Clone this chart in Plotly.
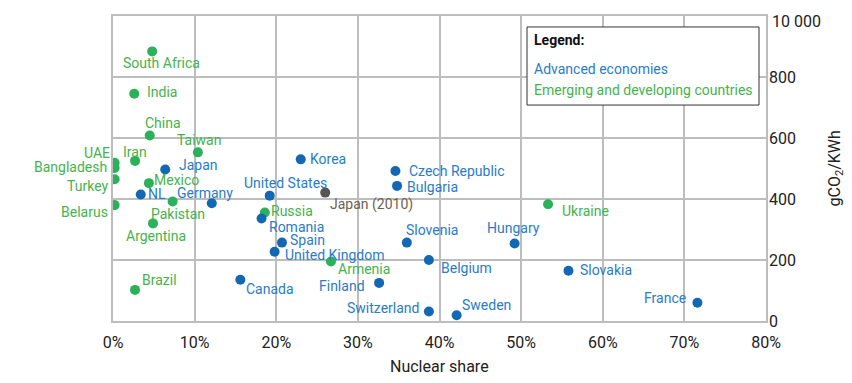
import plotly.graph_objects as go

# ---- data ----
countries = ["South Africa", "India", "China", "Taiwan", "UAE", "Bangladesh", "Iran", "Turkey",
             "Mexico", "NL", "Japan", "Germany", "Pakistan", "Belarus", "Argentina", "Brazil",
             "Canada", "Korea", "United States", "Japan (2010)", "Russia", "Romania", "Spain",
             "United Kingdom", "Armenia", "Finland", "Czech Republic", "Bulgaria", "Slovenia",
             "Belgium", "Switzerland", "Sweden", "Hungary", "Ukraine", "Slovakia", "France"]
nuclear_share = [4.8, 2.6, 4.5, 10.4, 0.2, 0.2, 2.7, 0.2,
                 4.4, 3.4, 6.4, 12.1, 7.3, 0.2, 4.9, 2.7,
                 15.6, 23.0, 19.2, 26.0, 18.6, 18.2, 20.7,
                 19.8, 26.7, 32.6, 34.6, 34.8, 36.0,
                 38.7, 38.7, 42.1, 49.2, 53.3, 55.8, 71.6]
co2_intensity = [884, 745, 608, 553, 519, 502, 525, 465,
                 452, 415, 497, 386, 392, 380, 320, 102,
                 135, 530, 411, 421, 356, 336, 257,
                 227, 195, 125, 492, 443, 257,
                 200, 31, 19, 254, 383, 165, 60]
group = ["E", "E", "E", "E", "E", "E", "E", "E",
         "E", "A", "A", "A", "E", "E", "E", "E",
         "A", "A", "A", "R", "E", "A", "A",
         "A", "E", "A", "A", "A", "A",
         "A", "A", "A", "A", "E", "A", "A"]
x_ticks = [0, 10, 20, 30, 40, 50, 60, 70, 80]
x_tick_labels = ["0%", "10%", "20%", "30%", "40%", "50%", "60%", "70%", "80%"]
y_ticks = [0, 200, 400, 600, 800, 1000]
y_tick_labels = ["0", "200", "400", "600", "800", "10 000"]

# ---- styles ----
label_offsets = {  # (dx, dy) pixel shift of label centre from point
    "South Africa": (9, -12), "India": (28, 2), "China": (13, 13), "Taiwan": (1, 12),
    "UAE": (-18, 10), "Bangladesh": (-44, 1), "Iran": (0, 9), "Turkey": (-27, -7),
    "Mexico": (28, 3), "NL": (16, 0), "Japan": (33, 4), "Germany": (-7, 10),
    "Pakistan": (5, -13), "Belarus": (-30, -7), "Argentina": (3, -13), "Brazil": (24, 10),
    "Canada": (30, -9), "Korea": (27, 0), "United States": (16, 13), "Japan (2010)": (46, -12),
    "Russia": (27, 1), "Romania": (35, -8), "Spain": (26, 3), "United Kingdom": (60, -3),
    "Armenia": (33, -7), "Finland": (-37, -3), "Czech Republic": (62, 0), "Bulgaria": (35, -1),
    "Slovenia": (25, 13), "Belgium": (38, -8), "Switzerland": (-46, 4), "Sweden": (30, 10),
    "Hungary": (-1, 16), "Ukraine": (37, -7), "Slovakia": (38, 1), "France": (-32, 5),
}
marker_col = {"A": "#1467b3", "E": "#2bb15a", "R": "#555555"}
label_col = {"A": "#2a7cc7", "E": "#45b34d", "R": "#6e5f52"}
FONT = "Roboto, 'DejaVu Sans', sans-serif"
GRID = "#bdbdbd"
TXT = "#222222"

fig = go.Figure()
for g in ["E", "A", "R"]:
    idx = [i for i, v in enumerate(group) if v == g]
    fig.add_trace(go.Scatter(
        x=[nuclear_share[i] for i in idx], y=[co2_intensity[i] for i in idx],
        mode="markers", marker=dict(size=10, color=marker_col[g]),
        showlegend=False, hoverinfo="skip"))

for i, name in enumerate(countries):
    dx, dy = label_offsets[name]
    fig.add_annotation(x=nuclear_share[i], y=co2_intensity[i], text=name, showarrow=False,
                       xshift=dx, yshift=dy, xanchor="center", yanchor="middle",
                       font=dict(family=FONT, size=14, color=label_col[group[i]]))

# legend box
fig.add_shape(type="rect", xref="paper", yref="paper", x0=0.634, x1=0.9893, y0=0.708, y1=0.964,
              line=dict(color="#333333", width=1), fillcolor="white", layer="above")
fig.add_annotation(xref="paper", yref="paper", x=0.641, y=0.921, xanchor="left", yanchor="middle",
                   text="<b>Legend:</b>", showarrow=False,
                   font=dict(family=FONT, size=14, color="#111111"))
fig.add_annotation(xref="paper", yref="paper", x=0.641, y=0.826, xanchor="left", yanchor="middle",
                   text="Advanced economies", showarrow=False,
                   font=dict(family=FONT, size=14, color=label_col["A"]))
fig.add_annotation(xref="paper", yref="paper", x=0.641, y=0.757, xanchor="left", yanchor="middle",
                   text="Emerging and developing countries", showarrow=False,
                   font=dict(family=FONT, size=14, color=label_col["E"]))

# top y tick label (drawn as annotation so it is not dropped at the figure edge)
fig.add_annotation(xref="paper", yref="y", x=1, y=y_ticks[-1], xshift=4, yshift=-5,
                   xanchor="left", yanchor="middle", text=y_tick_labels[-1], showarrow=False,
                   font=dict(family=FONT, size=16, color=TXT))

# axis titles
fig.add_annotation(xref="paper", yref="paper", x=0.5, y=0, yshift=-45, xanchor="center",
                   yanchor="middle", text="Nuclear share", showarrow=False,
                   font=dict(family=FONT, size=16, color=TXT))
fig.add_annotation(xref="paper", yref="paper", x=1, y=0.5, xshift=69, xanchor="center",
                   yanchor="middle", text="gCO<sub>2</sub>/KWh", textangle=-90, showarrow=False,
                   font=dict(family=FONT, size=16, color=TXT))

# the page body adds an 8px offset; figure sized so the plot box lands on the reference pixels
fig.update_layout(
    width=836, height=367, margin=dict(l=105, r=78, t=8, b=54, autoexpand=False),
    paper_bgcolor="white", plot_bgcolor="white",
    font=dict(family=FONT, color=TXT),
    xaxis=dict(range=[0, 80], tickvals=x_ticks, ticktext=x_tick_labels, automargin=False,
               showgrid=True, gridcolor=GRID, gridwidth=1.5, zeroline=False,
               showline=True, linecolor=GRID, linewidth=1.5, mirror=True,
               tickfont=dict(size=16, color=TXT), ticks="", ticklabelstandoff=6),
    yaxis=dict(range=[0, 1000], tickvals=y_ticks[:-1], ticktext=y_tick_labels[:-1], side="right",
               automargin=False,
               showgrid=True, gridcolor=GRID, gridwidth=1.5, zeroline=False,
               showline=True, linecolor=GRID, linewidth=1.5, mirror=True,
               tickfont=dict(size=16, color=TXT), ticks="", ticklabelstandoff=-2),
)

fig.write_html("out.html")
